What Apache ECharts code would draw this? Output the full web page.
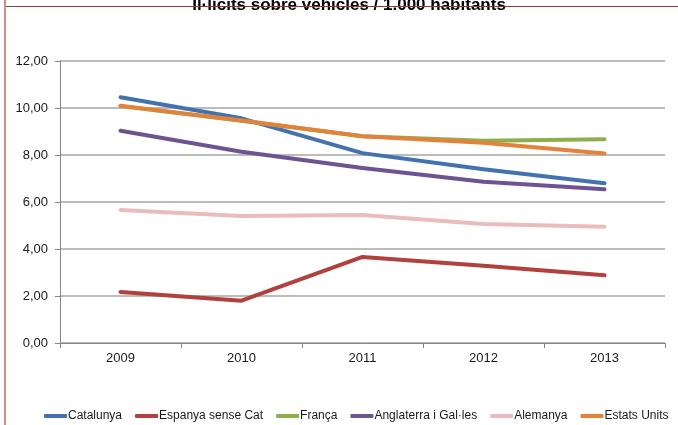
<!DOCTYPE html>
<html>
<head>
<meta charset="utf-8">
<script src="https://cdn.jsdelivr.net/npm/echarts@6/dist/echarts.min.js"></script>
<style>html,body{margin:0;padding:0;background:#fff}#c{width:678px;height:425px}</style>
</head>
<body>
<div id="c"></div>
<script>
var titleText = 'Il·lícits sobre vehicles / 1.000 habitants';
var categories = ['2009', '2010', '2011', '2012', '2013'];
var seriesNames = ['Catalunya', 'Espanya sense Cat', 'França', 'Anglaterra i Gal·les', 'Alemanya', 'Estats Units'];
var catalunya = [10.46, 9.56, 8.08, 7.39, 6.80];
var espanya = [2.17, 1.80, 3.66, 3.29, 2.88];
var franca = [10.08, 9.46, 8.80, 8.61, 8.67];
var anglaterra = [9.03, 8.14, 7.45, 6.86, 6.54];
var alemanya = [5.66, 5.40, 5.45, 5.06, 4.95];
var estatsUnits = [10.10, 9.47, 8.80, 8.52, 8.06];
var yTicks = [0, 2, 4, 6, 8, 10, 12];

var colors = ['#4273b0', '#b2413d', '#8daf4e', '#6e5392', '#ebbcbc', '#e3823a'];
var dataList = [catalunya, espanya, franca, anglaterra, alemanya, estatsUnits];
var font = 'Liberation Sans, Arial, sans-serif';

var chart = echarts.init(document.getElementById('c'), null, {renderer: 'canvas'});
chart.setOption({
  animation: false,
  backgroundColor: '#ffffff',
  color: colors,
  title: {
    text: titleText,
    left: 344, textAlign: 'center',
    top: -8,
    textStyle: {fontFamily: font, fontSize: 17, fontWeight: 'bold', color: '#000'}
  },
  graphic: [
    {type: 'line', shape: {x1: 5, y1: 0, x2: 5, y2: 425}, style: {stroke: '#d48c8a', lineWidth: 2}, z: 100},
    {type: 'line', shape: {x1: 6, y1: 6.5, x2: 678, y2: 6.5}, style: {stroke: '#8e3b38', lineWidth: 1.2}, z: 100}
  ],
  legend: {
    top: 405,
    left: 39,
    width: 639,
    padding: 5,
    itemWidth: 23,
    itemHeight: 4,
    itemGap: 13,
    icon: 'roundRect',
    textStyle: {fontFamily: font, fontSize: 12, color: '#1a1a1a', padding: [0, 0, 0, -4]},
    data: seriesNames
  },
  grid: {left: 60, right: 13, top: 61, bottom: 82},
  xAxis: {
    type: 'category',
    data: categories,
    boundaryGap: true,
    axisLine: {lineStyle: {color: '#868686', width: 1}},
    axisTick: {show: true, length: 5, lineStyle: {color: '#868686'}},
    axisLabel: {margin: 9, fontFamily: font, fontSize: 13, color: '#1a1a1a'}
  },
  yAxis: {
    type: 'value',
    min: yTicks[0], max: yTicks[yTicks.length - 1], interval: 2,
    axisLine: {show: true, lineStyle: {color: '#868686', width: 1}},
    axisTick: {show: true, length: 5, lineStyle: {color: '#868686'}},
    axisLabel: {margin: 12, fontFamily: font, fontSize: 13, color: '#1a1a1a',
      formatter: function (v) { return v.toFixed(2).replace('.', ','); }},
    splitLine: {show: true, lineStyle: {color: '#a6a6a6', width: 1.5}}
  },
  series: seriesNames.map(function (n, i) {
    return {
      name: n, type: 'line', data: dataList[i], symbol: 'none',
      lineStyle: {width: 4, cap: 'round', join: 'round', color: colors[i]},
      itemStyle: {color: colors[i]}
    };
  })
});
</script>
</body>
</html>
